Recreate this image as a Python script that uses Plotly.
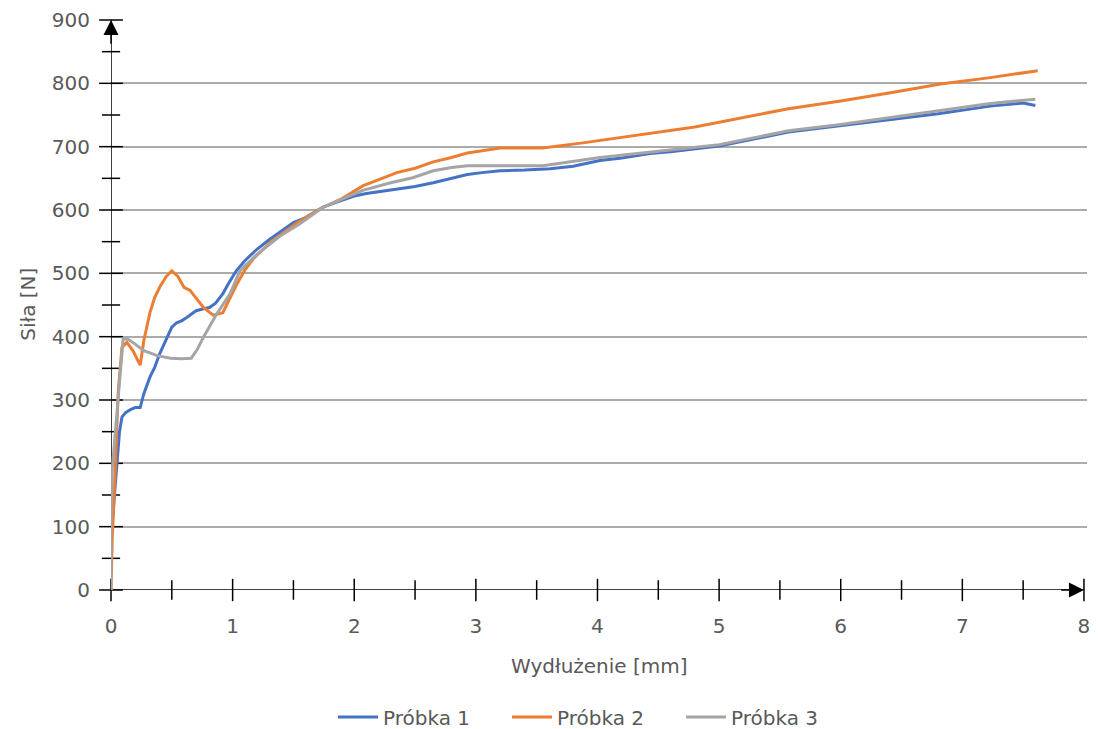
import plotly.graph_objects as go

# Próbka 1
x_p1 = [0.01, 0.03, 0.05, 0.07, 0.09, 0.12, 0.16, 0.20, 0.24, 0.27, 0.32, 0.36, 0.40, 0.46,
        0.50, 0.54, 0.58, 0.62, 0.66, 0.70, 0.76, 0.81, 0.86, 0.92, 0.97, 1.03, 1.10, 1.20,
        1.30, 1.40, 1.50, 1.60, 1.74, 1.85, 2.00, 2.10, 2.20, 2.35, 2.50, 2.65, 2.80, 2.93,
        3.05, 3.20, 3.40, 3.61, 3.80, 4.02, 4.20, 4.43, 4.60, 4.84, 5.00, 5.57, 6.00, 6.41,
        6.80, 7.23, 7.50, 7.60]
y_p1 = [105, 150, 200, 250, 273, 280, 285, 288, 288, 310, 336, 352, 373, 399,
        415, 422, 425, 430, 436, 441, 444, 446, 453, 468, 485, 504, 520, 538,
        553, 566, 580, 588, 604, 612, 622, 626, 629, 633, 637, 643, 650, 656,
        659, 662, 663, 665, 669, 678, 682, 689, 692, 697, 701, 723, 733, 743,
        752, 764, 769, 765]

# Próbka 2
x_p2 = [0.00, 0.01, 0.03, 0.06, 0.09, 0.13, 0.18, 0.24, 0.27, 0.32, 0.36, 0.40, 0.45, 0.50,
        0.55, 0.60, 0.65, 0.70, 0.76, 0.84, 0.92, 0.95, 1.03, 1.10, 1.17, 1.31, 1.53, 1.74,
        1.90, 2.07, 2.20, 2.35, 2.50, 2.65, 2.80, 2.93, 3.20, 3.55, 3.88, 4.29, 4.80, 5.57,
        6.00, 6.41, 6.82, 7.23, 7.62]
y_p2 = [0, 80, 168, 315, 383, 391, 378, 355, 394, 438, 462, 478, 494, 504,
        495, 478, 473, 460, 446, 434, 438, 450, 481, 505, 523, 549, 580, 604,
        618, 638, 648, 659, 666, 676, 683, 690, 698, 698, 706, 717, 731, 760,
        772, 785, 799, 809, 820]

# Próbka 3
x_p3 = [0.00, 0.00, 0.01, 0.04, 0.07, 0.10, 0.14, 0.18, 0.27, 0.38, 0.49, 0.58, 0.66, 0.71,
        0.76, 0.87, 0.98, 1.06, 1.20, 1.39, 1.55, 1.74, 1.90, 2.07, 2.30, 2.48, 2.65, 2.80,
        2.93, 3.20, 3.55, 4.02, 4.57, 4.76, 5.00, 5.57, 6.00, 6.41, 6.80, 7.23, 7.60]
y_p3 = [0, 100, 190, 260, 340, 397, 396, 391, 378, 370, 366, 365, 366, 380,
        399, 436, 468, 504, 530, 559, 578, 604, 617, 631, 643, 651, 662, 667,
        670, 670, 670, 683, 694, 698, 703, 725, 735, 746, 756, 768, 775]

series_names = ["Próbka 1", "Próbka 2", "Próbka 3"]
series_colors = ["#4472C4", "#ED7D31", "#A5A5A5"]
series_x = [x_p1, x_p2, x_p3]
series_y = [y_p1, y_p2, y_p3]

x_ticks = [0, 1, 2, 3, 4, 5, 6, 7, 8]
x_minor = [0.5, 1.5, 2.5, 3.5, 4.5, 5.5, 6.5, 7.5]
y_ticks = [0, 100, 200, 300, 400, 500, 600, 700, 800, 900]
y_minor = [50, 150, 250, 350, 450, 550, 650, 750, 850]

x_title = "Wydłużenie [mm]"
y_title = "Siła [N]"

W, H = 1098, 729
ML, MR, MT, MB = 111, 8, 19, 139
X_MAX = 8
Y_MAX = 900
FONT = "DejaVu Sans"
FONT_SIZE = 20
TEXT_COLOR = "#595959"
AXIS_COLOR = "#000000"

fig = go.Figure()


def tick_marks(xs, ys, symbol, size):
    # tick marks that cross the axis lines
    return go.Scatter(
        x=xs, y=ys, mode="markers", showlegend=False, hoverinfo="skip",
        cliponaxis=False,
        marker=dict(symbol=symbol, size=size, color=AXIS_COLOR,
                    line=dict(color=AXIS_COLOR, width=1.5)),
    )


fig.add_trace(tick_marks(x_ticks, [0] * len(x_ticks), "line-ns", 16))
fig.add_trace(tick_marks(x_minor, [0] * len(x_minor), "line-ns", 14))
fig.add_trace(tick_marks([0] * len(y_ticks), y_ticks, "line-ew", 17))
fig.add_trace(tick_marks([0] * len(y_minor), y_minor, "line-ew", 13))

for name, color, xs, ys in zip(series_names, series_colors, series_x, series_y):
    fig.add_trace(go.Scatter(
        x=xs, y=ys, mode="lines", name=name, cliponaxis=False,
        line=dict(color=color, width=3),
    ))

# axis lines, between the grid and the data
fig.add_shape(type="line", xref="x", yref="y", x0=0, y0=0, x1=X_MAX, y1=0,
              line=dict(color=AXIS_COLOR, width=1.5), layer="between")
fig.add_shape(type="line", xref="x", yref="y", x0=0, y0=0, x1=0, y1=Y_MAX,
              line=dict(color=AXIS_COLOR, width=1.5), layer="between")

# arrow heads at the axis ends
fig.add_annotation(x=X_MAX, y=0, ax=X_MAX - 0.2, ay=0, axref="x", ayref="y",
                   xref="x", yref="y", text="", showarrow=True, arrowhead=2,
                   arrowwidth=1.5, arrowsize=2, arrowcolor=AXIS_COLOR)
fig.add_annotation(x=0, y=Y_MAX, ax=0, ay=Y_MAX - 40, axref="x", ayref="y",
                   xref="x", yref="y", text="", showarrow=True, arrowhead=2,
                   arrowwidth=1.5, arrowsize=2, arrowcolor=AXIS_COLOR)

# axis titles, positioned from page pixels converted to paper fractions
pw, ph = W - ML - MR, H - MT - MB
title_font = dict(family=FONT, size=FONT_SIZE, color=TEXT_COLOR)
fig.add_annotation(x=(601 - ML) / pw, y=(H - MB - 666) / ph,
                   xref="paper", yref="paper", text=x_title, showarrow=False,
                   font=title_font, xanchor="center", yanchor="middle")
fig.add_annotation(x=(27 - ML) / pw, y=(H - MB - 304) / ph,
                   xref="paper", yref="paper", text=y_title, showarrow=False,
                   font=title_font, textangle=-90, xanchor="center", yanchor="middle")

fig.update_layout(
    width=W, height=H,
    margin=dict(l=ML, r=MR, t=MT, b=MB),
    paper_bgcolor="white", plot_bgcolor="white",
    font=dict(family=FONT, size=FONT_SIZE, color=TEXT_COLOR),
    showlegend=True,
    legend=dict(orientation="h", xref="container", yref="container",
                x=594 / W, y=1 - 717 / H, xanchor="center", yanchor="middle",
                font=dict(family=FONT, size=FONT_SIZE, color=TEXT_COLOR),
                itemwidth=40, entrywidth=119, entrywidthmode="pixels"),
    xaxis=dict(range=[0, 8.025], tickvals=x_ticks, showgrid=False, zeroline=False,
               showline=False, ticks="", ticklabelstandoff=22,
               tickfont=dict(family=FONT, size=FONT_SIZE, color=TEXT_COLOR)),
    yaxis=dict(range=[0, Y_MAX], tickvals=y_ticks, showgrid=True, gridcolor="#ababab",
               gridwidth=1.5, zeroline=False, showline=False, ticks="",
               ticklabelstandoff=20,
               tickfont=dict(family=FONT, size=FONT_SIZE, color=TEXT_COLOR)),
)

fig.write_html("out.html")
